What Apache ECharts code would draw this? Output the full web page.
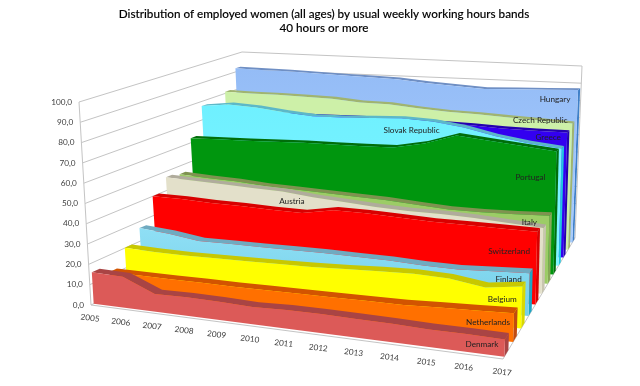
<!DOCTYPE html>
<html>
<head>
<meta charset="utf-8">
<style>html,body{margin:0;padding:0;background:#fff}#main{width:640px;height:386px}</style>
<script src="https://cdn.jsdelivr.net/npm/echarts@6/dist/echarts.min.js"></script>
</head>
<body>
<div id="main"></div>
<script>
"use strict";
var years = ["2005","2006","2007","2008","2009","2010","2011","2012","2013","2014","2015","2016","2017"];
var yTicks = [0,10,20,30,40,50,60,70,80,90,100];

// 前到后
var denmark = [15.5,15,8.5,8.8,8.5,8,8.5,8.5,8.2,8,7.5,7.5,7.2];
var netherlands = [11.7,11.5,11.3,11.2,11,11,11,10.9,11,11,11.5,12,12.5];
var belgium = [20.2,19.4,19,19,19,19,19.1,19.5,20,20.3,19.5,17,18.9];
var finland = [26.7,25,22.5,22.3,22,21.8,21.6,21,20.5,19.5,19,19.5,20];
var switzerland = [40,39.5,38.5,38,37,36.5,38.9,38.5,37.5,36.5,36,35.5,35];
var austria = [47,46,45,44,43,41,39.5,38,37,36.5,35.5,34,32.6];
var italy = [45.7,44.5,43.5,42,41,40,39,38,36.5,35,34.5,34.5,34.8];
var portugal = [62.4,62.5,62.5,62.6,62.8,62.6,62.5,62.6,65.5,70.5,68.5,66.5,64.5];
var slovak = [77.5,79,78,76,74.5,74.5,75,75.5,74.5,72,68,65,63];
var greece = [72,72,72,72,72,72,72,71.5,71,70.5,69.5,69,68.7];
var czech = [81,80.5,80.5,80,79.5,78,77.7,76,74.7,74,73,72,71];
var hungary = [92,91.7,91.5,91,90.5,90,89.5,88,87,86,86.5,87,87.5];

var W = 640, H = 386;
var ROW = 1 / 11.8, STRIP = 0.45;
var YEAR_PERSPECTIVE = -0.113;

// 底面和顶面四个角：前左 前右 后右 后左
var floorQuad = [[91,305],[503,359],[575,238],[249,228]];
var topQuad = [[79,102],[512,118],[582,66],[242,52]];

function makeHomography(q) {
  var dx1 = q[1][0]-q[2][0], dx2 = q[3][0]-q[2][0], sx = q[0][0]-q[1][0]+q[2][0]-q[3][0];
  var dy1 = q[1][1]-q[2][1], dy2 = q[3][1]-q[2][1], sy = q[0][1]-q[1][1]+q[2][1]-q[3][1];
  var det = dx1*dy2-dx2*dy1;
  var g = (sx*dy2-dx2*sy)/det, h = (dx1*sy-sx*dy1)/det;
  var a = q[1][0]-q[0][0]+g*q[1][0], b = q[3][0]-q[0][0]+h*q[3][0];
  var d = q[1][1]-q[0][1]+g*q[1][1], e = q[3][1]-q[0][1]+h*q[3][1];
  return function (t, v) {
    // 年份间距统一，不随深度和高度变
    var k = (1+YEAR_PERSPECTIVE)/(1+g/(1+h*v));
    var u = k*t/(1+(k-1)*t);
    var w = g*u+h*v+1;
    return [(a*u+b*v+q[0][0])/w, (d*u+e*v+q[0][1])/w];
  };
}
var floorH = makeHomography(floorQuad), topH = makeHomography(topQuad);

// 轴坐标 -> 透视画面
function project(api, i, value, depth) {
  var c = api.coord([i, value]);
  var t = c[0]/W, z = 1-c[1]/H;
  var a = floorH(t, depth), b = topH(t, depth);
  return [a[0]+(b[0]-a[0])*z, a[1]+(b[1]-a[1])*z];
}

function frontDepth(index) {
  return index*ROW + 0.15*ROW;
}

var rows = [
  {name:"Denmark", values:denmark, face:["#dc5a58","#dc5a58"], top:"#a94444", side:"#a94444", labelYear:12, label:[-23,5]},
  {name:"Netherlands", values:netherlands, face:["#ff7000","#ff7000"], top:"#d25400", side:"#c04a10", labelYear:12, label:[-26,9]},
  {name:"Belgium", values:belgium, face:["#ffff00","#ffff00"], top:"#c8c800", side:"#d8d800", labelYear:12, label:[-20,13]},
  {name:"Finland", values:finland, face:["#8fdff5","#74cfe8"], top:"#70aac0", side:"#1fa6c4", labelYear:12, label:[-21,6]},
  {name:"Switzerland", values:switzerland, face:["#ff0000","#ff0000"], top:"#d80000", side:"#d80000", labelYear:12, label:[-28,19]},
  {name:"Austria", values:austria, face:["#e3e0ca","#e3e0ca"], top:"#b0ac9c", side:"#c8c5b0", labelYear:5, label:[-21,4]},
  {name:"Italy", values:italy, face:["#9ccc66","#9ccc66"], top:"#7f9350", side:"#88a858", labelYear:12, label:[-20,7]},
  {name:"Portugal", values:portugal, face:["#00960e","#00960e"], top:"#006e0a", side:"#006e0a", labelYear:12, label:[-26,26]},
  {name:"Slovak Republic", values:slovak, face:["#6ff0ff","#7ff6ff"], top:"#5cb8c8", side:"#20c8e0", labelYear:7, label:[10,12]},
  {name:"Greece", values:greece, face:["#3300f0","#3300f0"], top:"#2400b0", side:"#2400b0", labelYear:12, label:[-19,5]},
  {name:"Czech Republic", values:czech, face:["#cdf0a8","#cdf0a8"], top:"#a0b470", side:"#a0b470", labelYear:12, label:[-32,-3]},
  {name:"Hungary", values:hungary, face:["#94bcf6","#a8ccff"], top:"#6f8fc4", side:"#3f80c8", labelYear:12, label:[-23,9]}
];

function renderWalls(params, api) {
  if (params.dataIndex !== 0) return;
  var kids = [];
  var lineStyle = {stroke:"#c4c4c4", lineWidth:1, fill:null};
  yTicks.forEach(function (v) {
    var a = project(api, 0, v, 0), b = project(api, 0, v, 1), c = project(api, years.length-1, v, 1);
    kids.push({type:"polyline", shape:{points:[a,b,c]}, style:lineStyle});
    kids.push({type:"text", x:a[0]-7, y:a[1], style:{text:v.toFixed(1).replace(".",","), fill:"#404040",
      font:"8.2px Lato", align:"right", verticalAlign:"middle"}});
  });
  var last = years.length-1;
  kids.push({type:"polyline", shape:{points:[project(api,0,100,0),project(api,0,0,0),project(api,last,0,0),project(api,last,0,1),project(api,last,100,1)]}, style:lineStyle});
  years.forEach(function (y, i) {
    var p = project(api, i, 0, 0);
    kids.push({type:"text", x:p[0]-1, y:p[1]+13, rotation:-0.12, style:{text:y, fill:"#404040",
      font:"8.2px Lato", align:"center", verticalAlign:"middle"}});
  });
  return {type:"group", children:kids};
}

function makeRibbon(row, index) {
  var front = frontDepth(index), back = front + STRIP*ROW;
  return function (params, api) {
    if (params.dataIndex !== 0) return;
    var n = row.values.length, frontEdge = [], backEdge = [], base = [];
    for (var i = 0; i < n; i++) {
      frontEdge.push(project(api, i, api.value(1, i), front));
      backEdge.push(project(api, i, api.value(1, i), back));
    }
    base = [project(api, n-1, 0, front), project(api, 0, 0, front)];
    var sideQuad = [frontEdge[n-1], backEdge[n-1], project(api, n-1, 0, back), base[0]];
    return {type:"group", children:[
      {type:"polygon", shape:{points:sideQuad}, style:{fill:row.side}},
      {type:"polygon", shape:{points:frontEdge.concat(backEdge.slice().reverse())}, style:{fill:row.top}},
      {type:"polygon", shape:{points:frontEdge.concat(base)}, style:{
        fill:new echarts.graphic.LinearGradient(0,0,0,1,[{offset:0,color:row.face[0]},{offset:1,color:row.face[1]}])}}
    ]};
  };
}

// 标签放最后画，不被前面的面挡住
function renderLabels(params, api) {
  var row = rows[params.dataIndex];
  var p = project(api, row.labelYear, row.values[row.labelYear], frontDepth(params.dataIndex));
  return {type:"text", x:p[0]+row.label[0], y:p[1]+row.label[1], style:{text:row.name, fill:"#222",
    font:"8.2px Lato", align:"center", verticalAlign:"middle"}};
}

var series = [{
  type:"custom", name:"walls", coordinateSystem:"cartesian2d", silent:true,
  data:years.map(function (y, i) { return [i, 0]; }), renderItem:renderWalls
}];
for (var k = rows.length-1; k >= 0; k--) {
  series.push({
    type:"custom", name:rows[k].name, coordinateSystem:"cartesian2d", silent:true,
    encode:{x:0, y:1},
    data:rows[k].values.map(function (v, i) { return [i, v]; }),
    renderItem:makeRibbon(rows[k], k)
  });
}
series.push({
  type:"custom", name:"labels", coordinateSystem:"cartesian2d", silent:true,
  data:rows.map(function (r) { return [r.labelYear, r.values[r.labelYear]]; }), renderItem:renderLabels
});

var myChart = echarts.init(document.getElementById("main"));
myChart.setOption({
  animation:false,
  backgroundColor:"#fff",
  title:{
    text:"Distribution of employed women (all ages) by usual weekly working hours bands\n40 hours or more",
    left:319, top:2,
    textAlign:"center",
    textStyle:{fontFamily:"Lato", fontSize:11.7, fontWeight:500, color:"#000", lineHeight:14,
      textBorderColor:"#000", textBorderWidth:0.12}
  },
  grid:{left:0, top:0, width:W, height:H},
  xAxis:{type:"category", data:years, boundaryGap:false, show:false},
  yAxis:{type:"value", min:0, max:100, interval:10, show:false},
  series:series
});
</script>
</body>
</html>
